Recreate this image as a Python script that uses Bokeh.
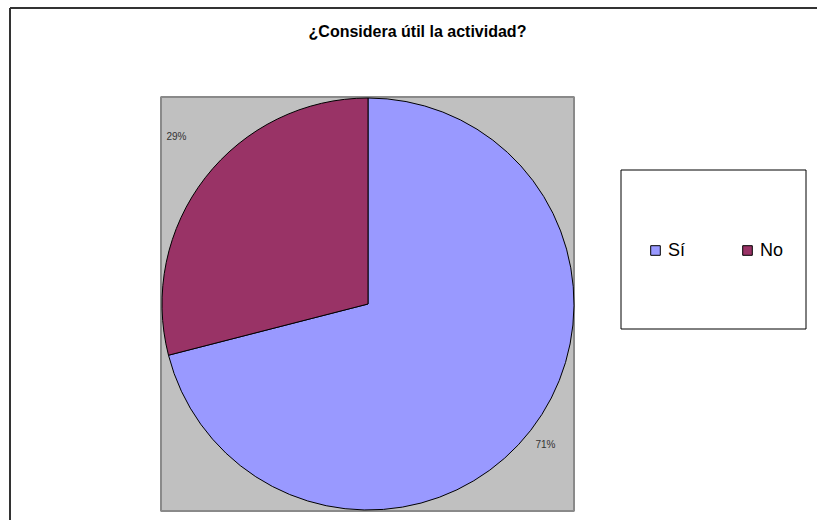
import math
from bokeh.plotting import figure
from bokeh.models import ColumnDataSource, Range1d, Legend, LegendItem
from bokeh.core.properties import value
from bokeh.embed import file_html
from bokeh.resources import INLINE

# ---- data ----
categories = ["Sí", "No"]
percentages = [71, 29]
colors = ["#9999FF", "#993366"]
title_text = "¿Considera útil la actividad?"

# ---- layout (pixels from top-left) ----
W, H = 817, 520
FONT = "Liberation Sans"

def Y(py):
    return H - py

cx, cy, r = 367.5, 303.5, 206.0

total = float(sum(percentages))
cum = [0.0]
for v in percentages:
    cum.append(cum[-1] + v / total)
starts = [math.pi / 2 - 2 * math.pi * c for c in cum[:-1]]
ends = [math.pi / 2 - 2 * math.pi * c for c in cum[1:]]

src = ColumnDataSource(dict(
    x=[cx] * len(categories), y=[Y(cy)] * len(categories),
    start=starts, end=ends, color=colors, cat=categories,
    label=[f"{v:.0f}%" for v in percentages],
))

p = figure(width=W, height=H, output_backend="svg", toolbar_location=None,
           x_range=Range1d(0, W), y_range=Range1d(0, H),
           x_axis_type=None, y_axis_type=None, min_border=0,
           outline_line_color=None, background_fill_color="white",
           border_fill_color="white")
p.grid.visible = False

# outer chart border (top and left visible)
p.line(x=[9.5, W + 20], y=[Y(7.5), Y(7.5)], line_color="#333333", line_width=2)
p.line(x=[9.5, 9.5], y=[Y(7.5), -20], line_color="#333333", line_width=2)

# plot area
p.quad(left=[160.5], right=[573.5], top=[Y(96.5)], bottom=[Y(510.5)],
       fill_color="#C0C0C0", line_color="#8a8a8a", line_width=2)

# pie
wr = p.wedge(x="x", y="y", radius=r, start_angle="start", end_angle="end",
             direction="clock", fill_color="color", line_color="black",
             line_width=1, source=src)

# percentage labels
lab_x = [545, 176]
lab_y = [Y(444), Y(136)]
p.text(x=lab_x, y=lab_y, text=src.data["label"], text_font=value(FONT),
       text_font_size="10px", text_color="#333333", text_align="center",
       text_baseline="middle")

# title
p.text(x=[417], y=[Y(31)], text=[title_text], text_font=value(FONT),
       text_font_size="16px", text_font_style="bold", text_color="black",
       text_align="center", text_baseline="middle")

# legend box
p.quad(left=[620.5], right=[805.5], top=[Y(169.5)], bottom=[Y(328.5)],
       fill_color="white", line_color="black", line_width=1)

legend = Legend(items=[LegendItem(label=c, renderers=[wr], index=i)
                       for i, c in enumerate(categories)],
                orientation="horizontal", location=(649, Y(260.5)),
                padding=0, margin=0, spacing=53, label_standoff=7,
                glyph_width=12, glyph_height=12, label_height=20,
                label_text_font=FONT, label_text_font_size="18px",
                label_text_color="black",
                border_line_color=None, background_fill_alpha=0)
p.add_layout(legend, "center")

open("out.html", "w").write(file_html(p, INLINE))
